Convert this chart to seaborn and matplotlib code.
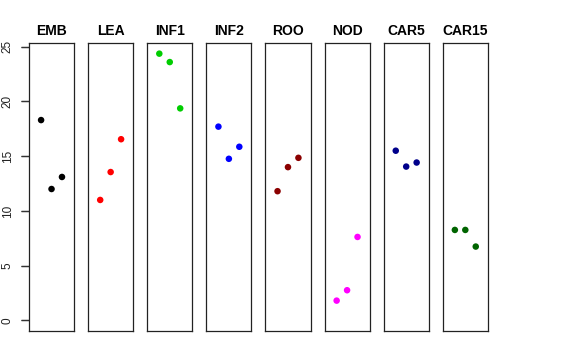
import seaborn as sns
import matplotlib
matplotlib.use('Agg')
import matplotlib.pyplot as plt
import matplotlib.transforms as mtransforms
import pandas as pd

groups = ['EMB', 'LEA', 'INF1', 'INF2', 'ROO', 'NOD', 'CAR5', 'CAR15']
rep1 = [18.3, 11.0, 24.37, 17.7, 11.8, 1.8, 15.5, 8.26]
rep2 = [12.0, 13.55, 23.6, 14.76, 14.0, 2.75, 14.05, 8.26]
rep3 = [13.1, 16.55, 19.37, 15.86, 14.85, 7.62, 14.42, 6.74]
colors = ['black', 'red', '#00CD00', 'blue', '#8B0000', 'magenta', '#00008B', '#006400']
yticks = [0, 5, 10, 15, 20, 25]

rows = []
for g, a, b, c in zip(groups, rep1, rep2, rep3):
    for i, v in enumerate([a, b, c]):
        rows.append({'group': g, 'rep': i + 1, 'value': v})
df = pd.DataFrame(rows)

plt.rcParams['font.family'] = ['Liberation Sans', 'DejaVu Sans']

fig, axes = plt.subplots(1, 8, figsize=(5.76, 3.6), dpi=100)
fig.subplots_adjust(left=0.0503, right=0.847, top=0.8806, bottom=0.0806, wspace=0.31)

ymax = max(rep1 + rep2 + rep3)
pad = 0.04 * ymax
for ax, g, col in zip(axes, groups, colors):
    sub = df[df['group'] == g]
    sns.scatterplot(data=sub, x='rep', y='value', color=col, s=22,
                    edgecolor='none', ax=ax, legend=False)
    ax.set_xlim(-0.16, 4.16)
    ax.set_ylim(-pad, ymax + pad)
    ax.set_xticks([])
    ax.set_xlabel('')
    ax.set_ylabel('')
    ax.set_title(g, fontsize=10, fontweight='bold', pad=6, color='black')
    for sp in ax.spines.values():
        sp.set_color('#222222')
        sp.set_linewidth(0.9)
    if ax is axes[0]:
        ax.set_yticks(yticks)
        ax.tick_params(axis='y', direction='out', length=6, width=0.9, pad=5,
                       labelsize=8.5, color='#333333', labelcolor='#222222',
                       labelrotation=90)
        for lab in ax.get_yticklabels():
            lab.set_va('center')
        # draw the tick marks explicitly too (R style outward ticks)
        trans = mtransforms.blended_transform_factory(ax.transAxes, ax.transData)
        ax.hlines(yticks, -0.18, 0, transform=trans, colors='#333333',
                  linewidth=0.9, clip_on=False)
    else:
        ax.set_yticks([])

plt.savefig('out.png', dpi=100)
